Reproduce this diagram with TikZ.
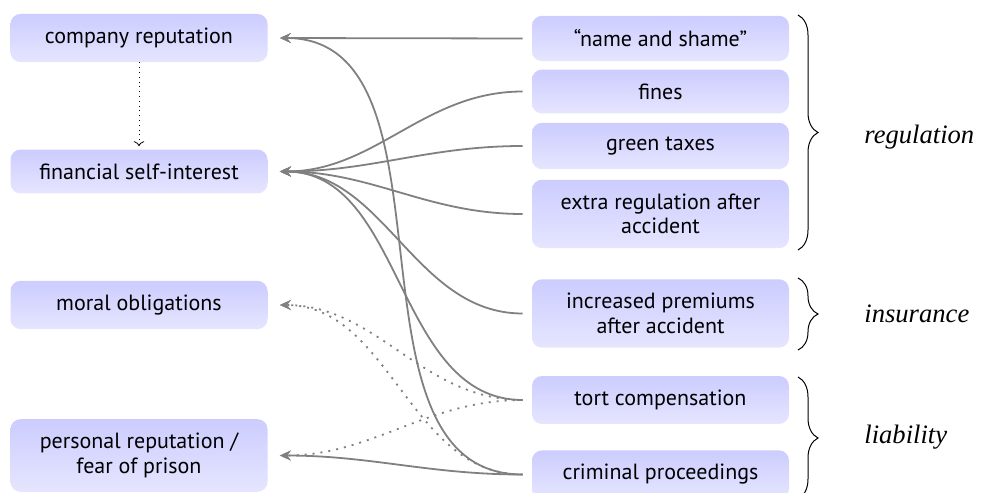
\documentclass[tikz,border=0pt]{standalone}
\usepackage{fontspec}
\setmainfont{PT Sans}
\newfontfamily\labfont{Liberation Serif}
\usetikzlibrary{arrows.meta,decorations.pathreplacing}
\begin{document}
\begin{tikzpicture}[x=0.5pt,y=-0.5pt,
 box/.style={rounded corners=5pt, top color=blue!20, bottom color=blue!10, draw=none, minimum width=128.5pt, align=center, inner ysep=7pt, font=\fontsize{11}{12.3}\selectfont},
 conn/.style={draw=gray, line width=0.9pt, -{Stealth[length=5.5pt,width=5pt,inset=2pt]}, shorten >=6pt, shorten <=4.5pt},
 dconn/.style={conn, dash pattern=on 1pt off 3pt},
 brc/.style={decorate, decoration={brace, amplitude=10pt}, line width=0.5pt},
 grp/.style={anchor=west, inner sep=0pt, font=\labfont\itshape\fontsize{13.3}{16}\selectfont}]
\useasboundingbox (0,0) rectangle (987,493);
% left column
\node[box] (comp) at (139,38) {company reputation};
\node[box] (fin) at (139,171.5) {financial self-interest};
\node[box] (moral) at (139,305) {moral obligations};
\node[box] (pers) at (139,455.5) {personal reputation /\\ fear of prison};
% right column
\node[box] (nas) at (660.5,38.5) {“name and shame”};
\node[box] (fines) at (660.5,91.5) {fines};
\node[box] (green) at (660.5,146) {green taxes};
\node[box] (extra) at (660.5,214) {extra regulation after\\ accident};
\node[box] (prem) at (660.5,313.5) {increased premiums\\ after accident};
\node[box] (tort) at (660.5,400) {tort compensation};
\node[box] (crim) at (660.5,474.5) {criminal proceedings};
% black dotted
\draw[dotted, line width=0.4pt, ->, shorten >=1.5pt] (comp.south) -- (fin.north);
% connectors
\draw[conn] (nas.west) -- (comp.east);
\draw[conn] (crim.west) to[out=180,in=0] (comp.east);
\draw[conn] (fines.west) to[out=180,in=0] (fin.east);
\draw[conn] (green.west) to[out=180,in=0] (fin.east);
\draw[conn] (extra.west) to[out=180,in=0] (fin.east);
\draw[conn] (prem.west) to[out=180,in=0] (fin.east);
\draw[conn] (tort.west) to[out=180,in=0] (fin.east);
\draw[dconn] (tort.west) to[out=180,in=0] (moral.east);
\draw[dconn] (crim.west) to[out=180,in=0] (moral.east);
\draw[dconn] (tort.west) to[out=180,in=0] (pers.east);
\draw[conn] (crim.west) to[out=180,in=0] (pers.east);
% braces
\coordinate (r1) at (798,15); \coordinate (r2) at (798,250);
\coordinate (i1) at (798,278); \coordinate (i2) at (798,350);
\coordinate (l1) at (798,377); \coordinate (l2) at (798,499);
\draw[brc] (r1) -- (r2);
\draw[brc] (i1) -- (i2);
\draw[brc] (l1) -- (l2);
\node[grp] (reg) at (864,137) {regulation};
\node[grp] (ins) at (864,314) {insurance};
\node[grp] (lia) at (864,437) {liability};
\end{tikzpicture}
\end{document}
